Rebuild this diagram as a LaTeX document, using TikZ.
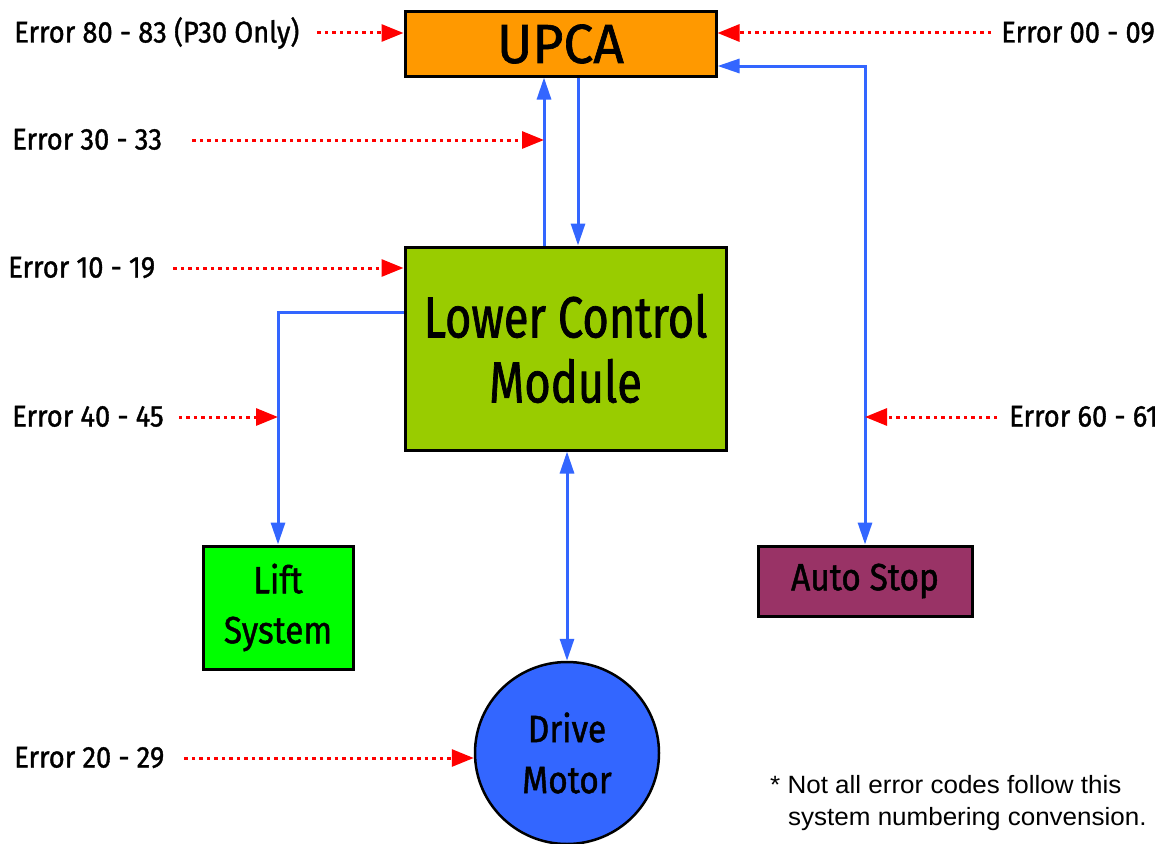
\documentclass[tikz,border=0pt]{standalone}
\usepackage{fontspec}
\setmainfont{Fira Sans}[FakeStretch=0.88,FakeBold=1.2]
\newfontfamily\errfont{Fira Sans}[FakeStretch=0.91,FakeBold=1.2]
\newfontfamily\lcmfont{Fira Sans}[FakeStretch=0.78,FakeBold=1.2]
\newfontfamily\upcafont{Fira Sans}[FakeStretch=0.97,FakeBold=1.2]
\newfontfamily\notefont{Liberation Sans}[FakeStretch=1.04]
\usetikzlibrary{arrows.meta}
\usetikzlibrary{shapes}
\usepackage{xcolor}
\definecolor{upcaorange}{HTML}{FF9900}
\definecolor{lcmgreen}{HTML}{99CC00}
\definecolor{liftgreen}{HTML}{00FF00}
\definecolor{stopplum}{HTML}{993366}
\definecolor{linkblue}{HTML}{3366FF}
\definecolor{errred}{HTML}{FF0000}

\begin{document}
\begin{tikzpicture}[x=1pt,y=-1pt,
  box/.style={draw=black,line width=3pt,align=center,inner sep=0pt},
  link/.style={draw=linkblue,line width=3pt,-{Triangle[length=22pt,width=14pt]}},
  twolink/.style={link,{Triangle[length=22pt,width=14pt]}-{Triangle[length=22pt,width=14pt]}},
  errarrow/.style={draw=errred,line width=3pt,dash pattern=on 3.5pt off 4pt,-{Triangle[length=22pt,width=17pt]}},
  errlabel/.style={inner sep=0pt,text height=21pt,text depth=2pt,font=\errfont\fontsize{30}{32}\selectfont}]
\useasboundingbox (0,0) rectangle (1166,843);
\node[box,fill=upcaorange,minimum width=311,minimum height=64,font=\upcafont\fontsize{55}{58}\selectfont] (upca) at (560.5,44) {UPCA};
\node[box,fill=lcmgreen,minimum width=321,minimum height=203,font=\lcmfont\fontsize{58}{65}\selectfont] (lcm) at (565.5,348.5) {Lower Control\\Module};
\node[box,fill=liftgreen,minimum width=150,minimum height=123,font=\fontsize{38}{50}\selectfont] (lift) at (278,607.5) {Lift\\System};
\node[box,fill=stopplum,minimum width=214,minimum height=70,font=\fontsize{38}{50}\selectfont] (auto) at (865,581) {Auto Stop};
\node[box,ellipse,line width=2.5pt,fill=linkblue,minimum width=184,minimum height=182,font=\fontsize{38}{51}\selectfont] (drive) at (567,753) {Drive\\Motor};
\node[anchor=north west,align=left,inner sep=0pt,font=\notefont\fontsize{25}{32}\selectfont] (note) at (770,775) {* Not all error codes follow this\\\hspace*{18pt}system numbering convension.};
\coordinate (upfoot) at ([xshift=-21.5pt]lcm.north);
\coordinate (downfoot) at ([xshift=12.5pt]lcm.north);
\draw[link] (upfoot) -- (upfoot |- upca.south);
\draw[link] (downfoot |- upca.south) -- (downfoot);
\draw[link] ([yshift=36.5pt]lcm.west) -| (lift.north);
\draw[twolink] (auto.north) |- ([yshift=-22pt]upca.east);
\draw[twolink] (lcm.south -| drive.north) -- (drive.north);
\foreach \nm/\xx/\yy/\gp/\tg/\txt in {e80/14/33/18/upca.west/Error 80 - 83 (P30 Only),
    e30/12/140/30/upfoot/Error 30 - 33, e10/8/268/18/lcm.west/Error 10 - 19,
    e40/12/417/15/lift.north/Error 40 - 45, e20/14/758/20/drive.west/Error 20 - 29} {
  \node[errlabel,anchor=west] (\nm) at (\xx,\yy) {\txt};
  \draw[errarrow] ([xshift=\gp pt]\nm.east) -- (\nm -| \tg);
}
\foreach \nm/\xx/\yy/\gp/\tg/\txt in {e00/1155/33/10/upca.east/Error 00 - 09,
    e60/1158/417/12/auto.north/Error 60 - 61} {
  \node[errlabel,anchor=east] (\nm) at (\xx,\yy) {\txt};
  \draw[errarrow] ([xshift=-\gp pt]\nm.west) -- (\nm -| \tg);
}
\end{tikzpicture}
\end{document}
